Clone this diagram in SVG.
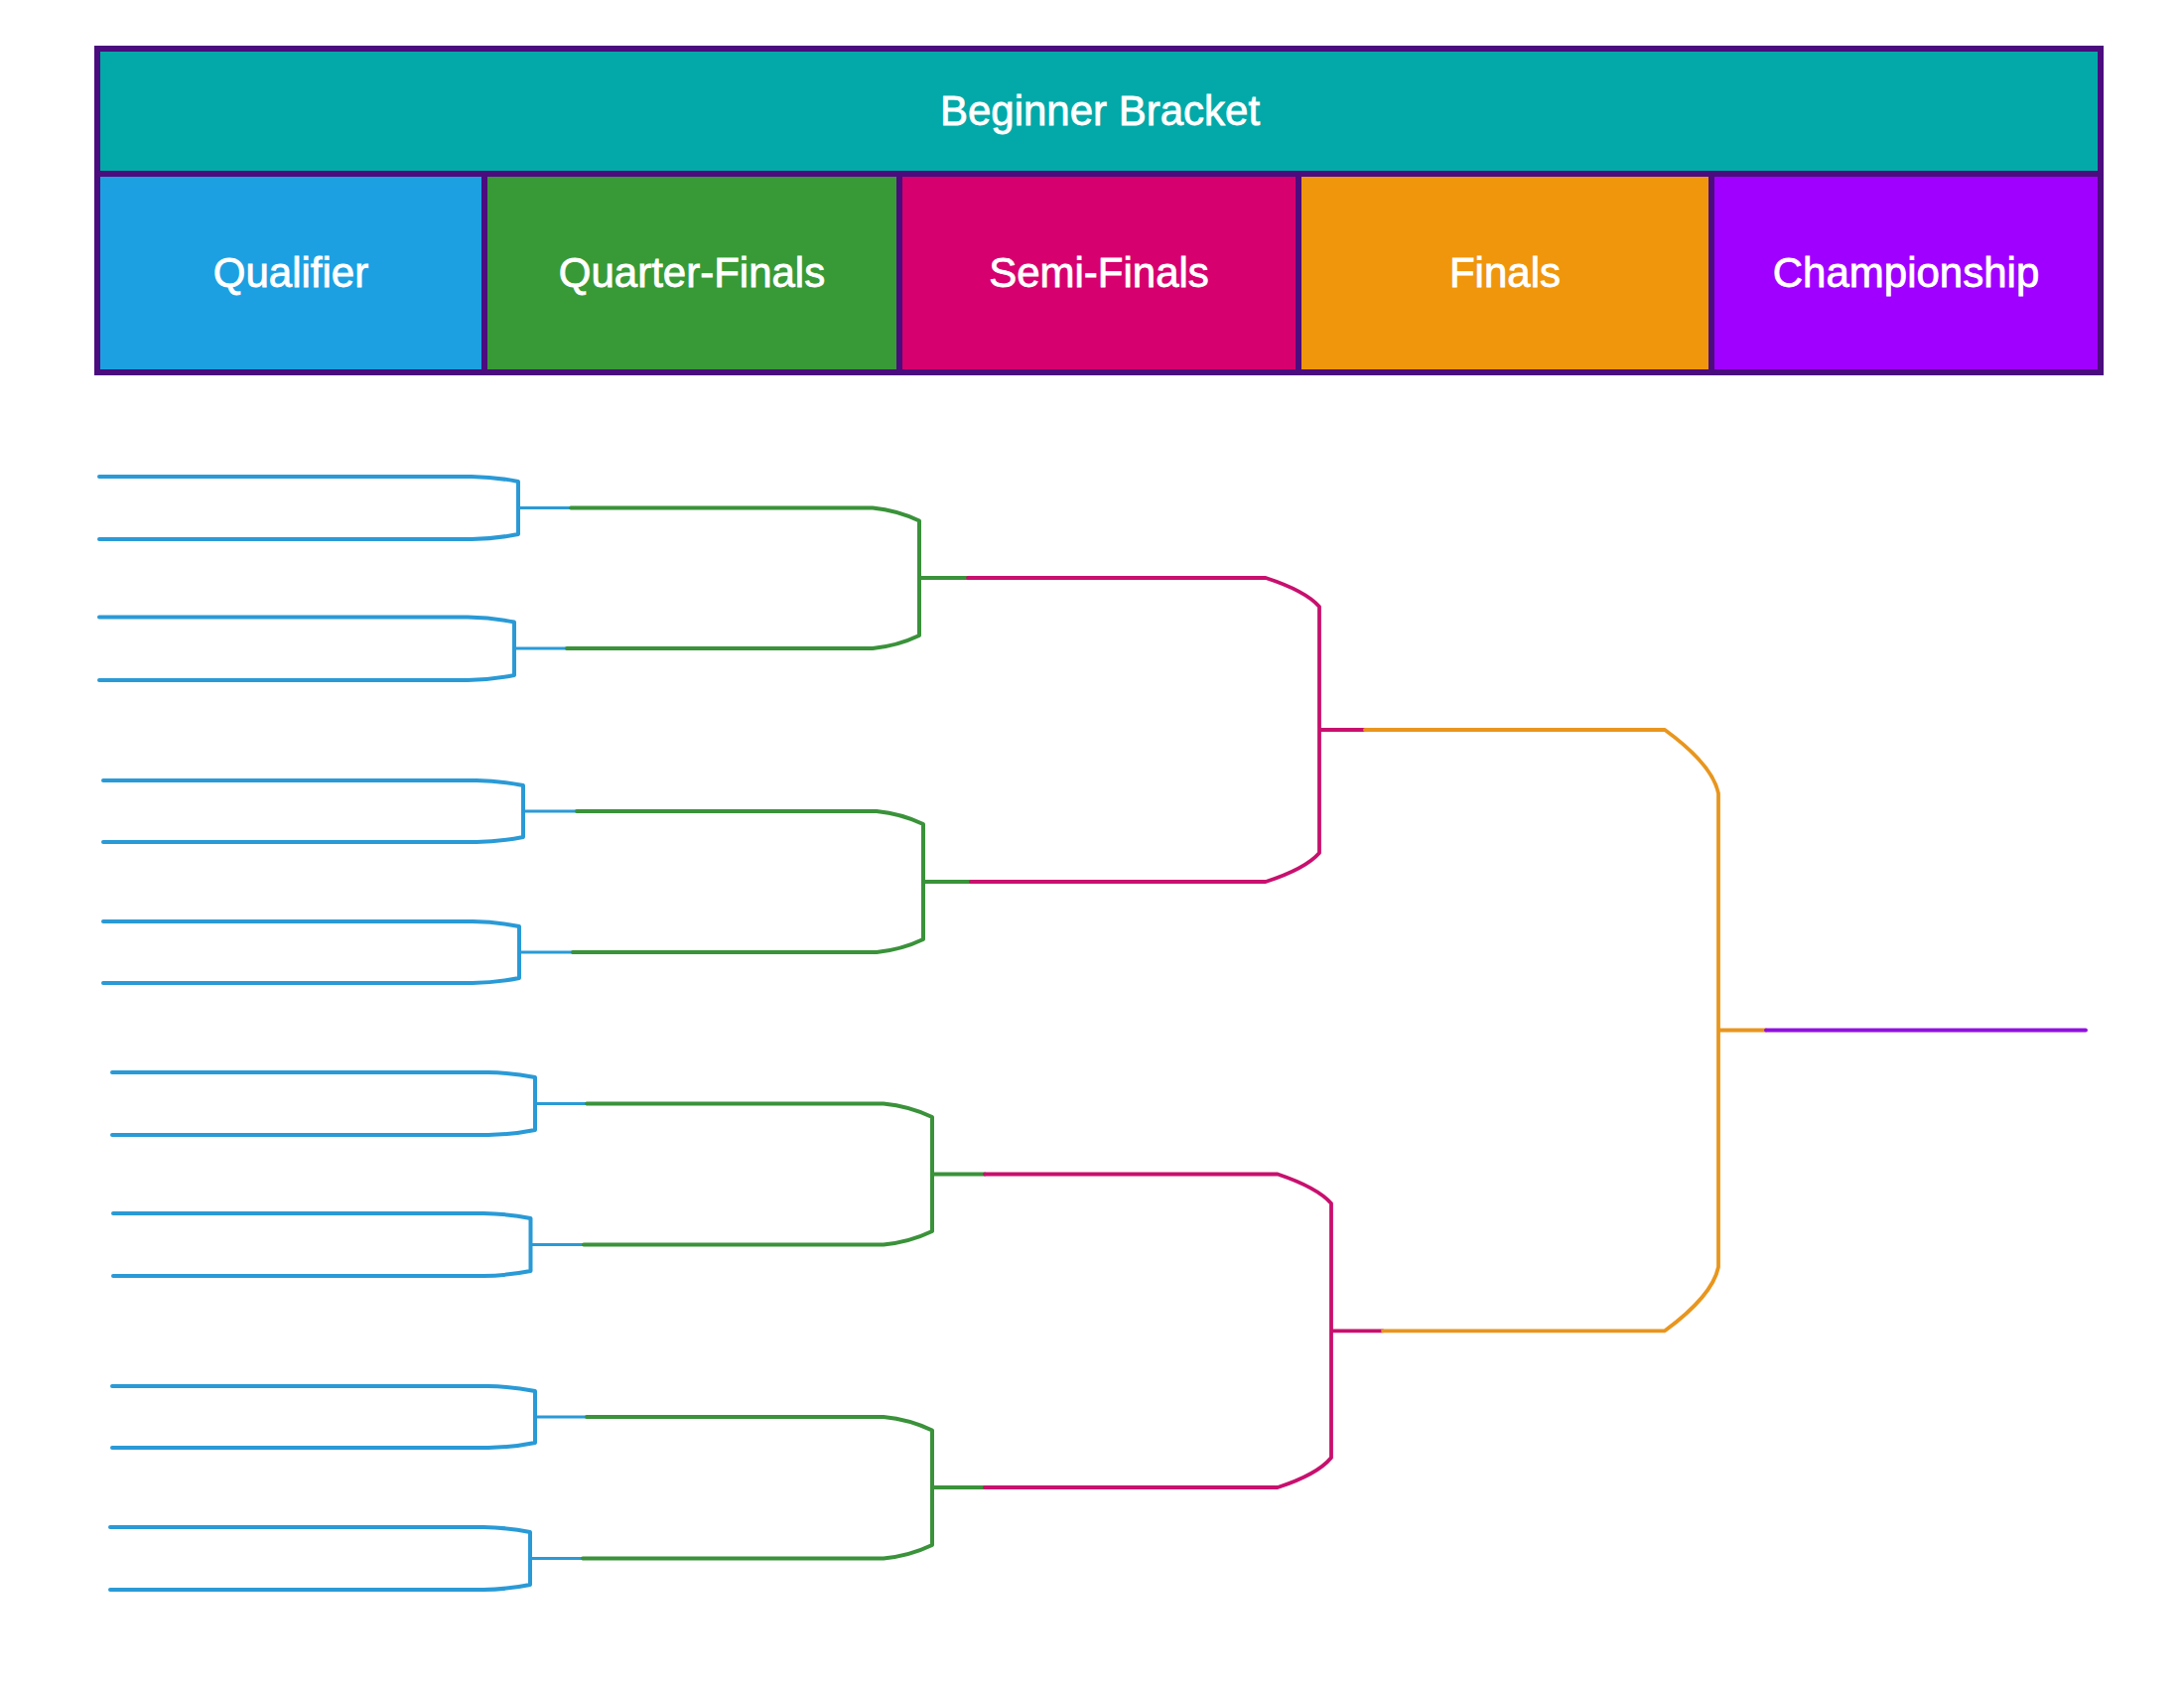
<svg xmlns="http://www.w3.org/2000/svg" width="2200" height="1700" viewBox="0 0 2200 1700">
<style>
.lbl{font-family:"Liberation Sans",Arial,sans-serif;font-size:42px;fill:#ffffff;stroke:#ffffff;stroke-width:0.8;text-anchor:middle}
.cell{stroke:#4b0c7e;stroke-width:6}
.ln{fill:none;stroke-linecap:round;stroke-linejoin:round}
.q{stroke:#2a9ad6;stroke-width:4}
.stub{stroke:#2a9ad6;stroke-width:3}
.qf{stroke:#3a923a;stroke-width:4}
.sf{stroke:#c8106e;stroke-width:3.8}
.fi{stroke:#e8961e;stroke-width:3.8}
.ch{stroke:#9010e0;stroke-width:3.8}
</style>
<rect width="2200" height="1700" fill="#ffffff"/>
<g id="title">
<rect class="cell" x="98" y="49" width="2018" height="126" fill="#02a9a8"/>
<text class="lbl" x="1108" y="126">Beginner Bracket</text>
</g>
<g id="col-qualifier">
<rect class="cell" x="98" y="175" width="390" height="200" fill="#1da0e2"/>
<text class="lbl" x="293" y="289">Qualifier</text>
</g>
<g id="col-quarter-finals">
<rect class="cell" x="488" y="175" width="418" height="200" fill="#389a36"/>
<text class="lbl" x="697" y="289">Quarter-Finals</text>
</g>
<g id="col-semi-finals">
<rect class="cell" x="906" y="175" width="402" height="200" fill="#d6006e"/>
<text class="lbl" x="1107" y="289">Semi-Finals</text>
</g>
<g id="col-finals">
<rect class="cell" x="1308" y="175" width="416" height="200" fill="#f0960c"/>
<text class="lbl" x="1516" y="289">Finals</text>
</g>
<g id="col-championship">
<rect class="cell" x="1724" y="175" width="392" height="200" fill="#a000ff"/>
<text class="lbl" x="1920" y="289">Championship</text>
</g>
<g id="connectors">
<g id="qualifier-lines" class="ln q">
<path d="M100,480 H475 Q500,480.5 522,485 V538 Q500,542.5 475,543 H100"/>
<path d="M100,621.5 H471 Q496,622 518,626.5 V680 Q496,684.5 471,685 H100"/>
<path d="M104,786 H480 Q505,786.5 527,791 V843 Q505,847.5 480,848 H104"/>
<path d="M104,928 H476 Q501,928.5 523,933 V985 Q501,989.5 476,990 H104"/>
<path d="M113,1080 H492 Q517,1080.5 539,1085 V1138 Q517,1142.5 492,1143 H113"/>
<path d="M114,1222 H487 Q512,1222.5 534.5,1227 V1280 Q512,1284.5 487,1285 H114"/>
<path d="M113,1396 H492 Q517,1396.5 539,1401 V1453 Q517,1457.5 492,1458 H113"/>
<path d="M111,1538 H487 Q512,1538.5 534,1543 V1596 Q512,1600.5 487,1601 H111"/>
</g>
<g id="qualifier-stubs" class="ln stub">
<path d="M522,511.5 H575 M518,653 H571 M527,817 H581 M523,959 H577 M539,1111.5 H591 M534.5,1253.5 H588 M539,1427 H591 M534,1569.5 H587"/>
</g>
<g id="quarter-final-lines" class="ln qf">
<path d="M575,511.5 H879 Q904,514 926,524.5 V640 Q904,650.5 879,653 H571 M926,582 H975"/>
<path d="M581,817 H883 Q908,819.5 930,830 V946 Q908,956.5 883,959 H577 M930,888 H978"/>
<path d="M591,1111.5 H890 Q916,1114 939,1125 V1240 Q916,1251 890,1253.5 H588 M939,1182.5 H992"/>
<path d="M591,1427 H890 Q916,1429.5 939,1440.5 V1556 Q916,1567 890,1569.5 H587 M939,1498 H992"/>
</g>
<g id="semi-final-lines" class="ln sf">
<path d="M975,582 H1275 Q1315,595 1329,611 V859 Q1315,875 1275,888 H978 M1329,735 H1375"/>
<path d="M992,1182.5 H1287 Q1327,1196 1341,1212 V1468 Q1327,1485 1287,1498 H992 M1341,1340.3 H1393"/>
</g>
<g id="final-lines" class="ln fi">
<path d="M1375,735 H1677 Q1725,770 1731,799 V1276 Q1725,1305 1677,1340.3 H1393 M1731,1037.5 H1779"/>
</g>
<g id="championship-line" class="ln ch">
<path d="M1779,1037.5 H2101"/>
</g>
</g>
</svg>
